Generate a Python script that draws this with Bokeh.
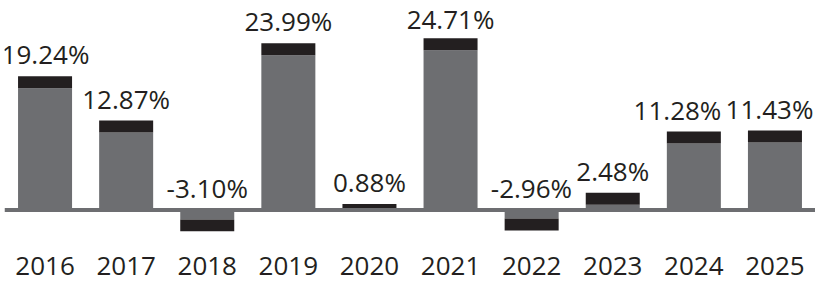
from bokeh.plotting import figure
from bokeh.models import ColumnDataSource, Range1d, FactorRange, Span, LabelSet
from bokeh.core.properties import value
from bokeh.embed import file_html
from bokeh.resources import INLINE

years = ["2016", "2017", "2018", "2019", "2020", "2021", "2022", "2023", "2024", "2025"]
returns = [19.24, 12.87, -3.10, 23.99, 0.88, 24.71, -2.96, 2.48, 11.28, 11.43]

GREY = "#6d6e71"
DARK = "#231f20"
FONT = "Open Sans"
LABEL_SIZE = 26

W, H = 815, 287
LEFT = 4
BOTTOM = 56
frame_h = H - BOTTOM
frame_w = W - LEFT
zero_px = 209.5
px_per_unit = 6.95
y_end = zero_px / px_per_unit
y_start = (zero_px - frame_h) / px_per_unit
cap = 12 / px_per_unit

grey_top = []
for v in returns:
    s = 1 if v >= 0 else -1
    grey_top.append(v - s * min(cap, abs(v)))
label_y = [max(v, 0) for v in returns]
labels = ["{:.2f}%".format(v) for v in returns]

# keep value labels inside the canvas and apart (approximate Open Sans metrics)
adv = {".": 0.266, "%": 0.831, "-": 0.322}
n = len(years)
widths = [sum(adv.get(c, 0.572) for c in t) * LABEL_SIZE for t in labels]
centers = [LEFT + (i + 0.5) * frame_w / n for i in range(n)]
y_off = []
baselines = []
for ly in label_y:
    top_px = zero_px - ly * px_per_unit
    yo = min(12.0, top_px - 1.07 * LABEL_SIZE - 1)
    y_off.append(yo)
    baselines.append(top_px - yo)
x_off = [0.0] * n
for i in range(n):
    left = centers[i] - widths[i] / 2
    right = centers[i] + widths[i] / 2
    if right > W - 2:
        x_off[i] = (W - 2) - right
    elif left < 1:
        x_off[i] = 1 - left
GAP = 4
for i in range(n - 2, -1, -1):
    if abs(baselines[i] - baselines[i + 1]) >= 0.75 * LABEL_SIZE:
        continue
    r_i = centers[i] + x_off[i] + widths[i] / 2
    l_next = centers[i + 1] + x_off[i + 1] - widths[i + 1] / 2
    if r_i + GAP > l_next:
        x_off[i] -= (r_i + GAP - l_next)

src = ColumnDataSource(dict(x=years, v=returns, g=grey_top, ly=label_y, lab=labels,
                            xo=x_off, yo=y_off))

p = figure(width=W, height=H, x_range=FactorRange(*years, range_padding=0),
           y_range=Range1d(y_start, y_end), output_backend="svg", toolbar_location=None,
           min_border_left=LEFT, min_border_right=0, min_border_top=0, min_border_bottom=BOTTOM)
p.outline_line_color = None
p.xgrid.visible = False
p.ygrid.visible = False
p.yaxis.visible = False
p.background_fill_color = "white"
p.border_fill_color = "white"

p.vbar(x="x", top="g", bottom=0, width=0.666, source=src, fill_color=GREY, line_color=None)
p.vbar(x="x", top="v", bottom="g", width=0.666, source=src, fill_color=DARK, line_color=None)

p.add_layout(Span(location=0, dimension="width", line_color=GREY, line_width=4))

p.add_layout(LabelSet(x="x", y="ly", text="lab", source=src, text_align="center",
                      text_baseline="alphabetic", x_offset="xo", y_offset="yo",
                      text_font=value(FONT), text_font_size=value(f"{LABEL_SIZE}px"),
                      text_color=DARK))

ax = p.xaxis[0]
ax.axis_line_color = None
ax.major_tick_line_color = None
ax.minor_tick_line_color = None
ax.major_tick_out = 0
ax.major_tick_in = 0
ax.major_label_standoff = 25
ax.major_label_text_font = FONT
ax.major_label_text_font_size = "26px"
ax.major_label_text_color = DARK

open("out.html", "w").write(file_html(p, INLINE))
